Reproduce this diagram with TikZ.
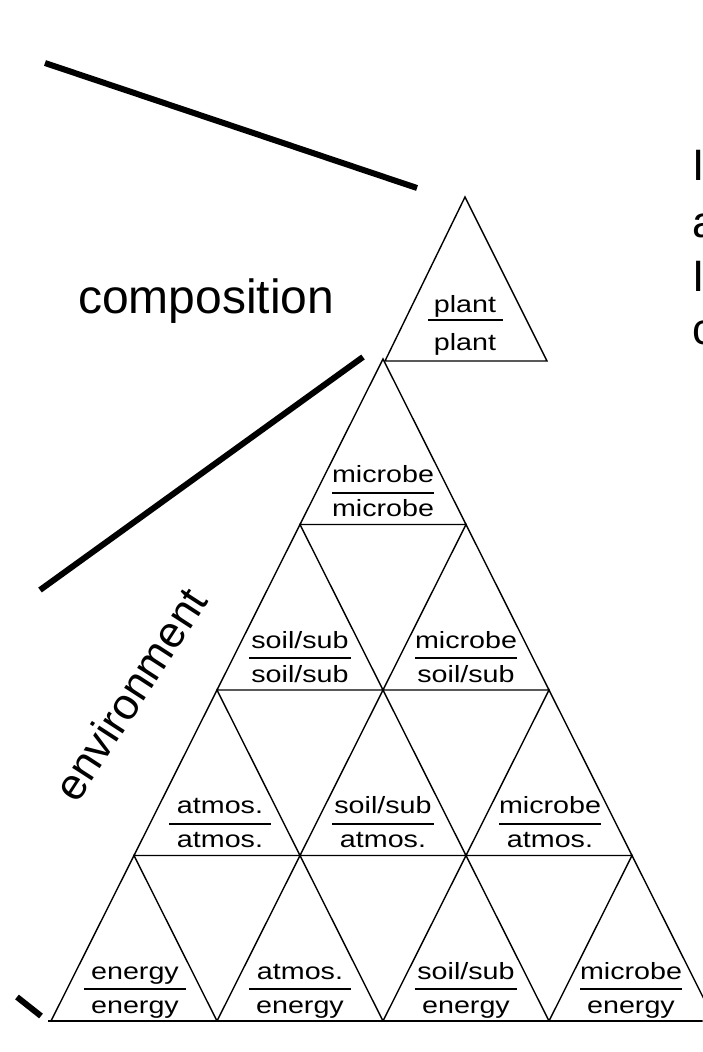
\documentclass[tikz,border=0pt]{standalone}
\usepackage{fontspec}
\setmainfont{Liberation Sans}
\newfontfamily\lblfont[FakeStretch=1.22]{Liberation Sans}
\begin{document}
\begin{tikzpicture}[x=1pt,y=-1pt,
  cell/.style={draw=black, line width=1.4pt, line join=miter},
  baseline rule/.style={draw=black, line width=2.2pt},
  heavy/.style={draw=black, line width=6pt},
  divider/.style={draw=black, line width=2pt},
  lbl/.style={font=\lblfont\fontsize{23.5}{26}\selectfont, inner sep=0pt, anchor=base},
  big/.style={font=\fontsize{48}{52}\selectfont, inner sep=0pt},
]
\useasboundingbox (0,0) rectangle (702,1052);
\fill[white] (0,0) rectangle (702,1052);

% pyramid of upward triangles: four rows below the apex
\foreach \k in {1,...,4} {
  \foreach \j in {1,...,\k} {
    \pgfmathsetmacro\ax{383-(\k-1)*83+(\j-1)*166}
    \pgfmathsetmacro\ay{359+(\k-1)*165.5}
    \draw[cell] (\ax,\ay) -- (\ax-83,\ay+165.5) -- (\ax+83,\ay+165.5) -- cycle;
  }
}
% heavier ground line
\draw[baseline rule] (48,1021) -- (702,1021);

% top triangle, set half a cell to the right
\coordinate (pt) at (465,197);
\coordinate (pl) at (385,361);
\coordinate (pr) at (547,361);
\draw[cell] (pt) -- (pl) -- (pr) -- cycle;

% fraction-style labels: upper word, rule, lower word
\newcommand{\fraclabel}[5]{%
  \node[lbl] (#1-t) at (#2,#3-42) {#4};
  \draw[divider] (#2-51,#3-32) -- (#2+51,#3-32);
  \node[lbl] (#1-b) at (#2,#3-8) {#5};
}
\node[lbl] (plant-t) at (465,312) {plant};
\draw[divider] (428,320) -- (503,320);
\node[lbl] (plant-b) at (465,350) {plant};

\fraclabel{mm}{383}{524.5}{microbe}{microbe}
\fraclabel{ss}{300}{690}{soil/sub}{soil/sub}
\fraclabel{ms}{466}{690}{microbe}{soil/sub}
\fraclabel{aa}{220}{855.5}{atmos.}{atmos.}
\fraclabel{sa}{383}{855.5}{soil/sub}{atmos.}
\fraclabel{ma}{550}{855.5}{microbe}{atmos.}
\fraclabel{ee}{135}{1021}{energy}{energy}
\fraclabel{ae}{300}{1021}{atmos.}{energy}
\fraclabel{se}{466}{1021}{soil/sub}{energy}
\fraclabel{me}{631}{1021}{microbe}{energy}

% heavy bracket strokes
\coordinate (h1a) at (45,63);   \coordinate (h1b) at (417,188);
\coordinate (h2a) at (363,357); \coordinate (h2b) at (40,590);
\coordinate (h3a) at (17,997);  \coordinate (h3b) at (41,1016);
\draw[heavy] (h1a) -- (h1b);
\draw[heavy] (h2a) -- (h2b);
\draw[heavy] (h3a) -- (h3b);

% side captions
\node[big, anchor=base west] (comp) at (78,313) {composition};
\node[big, rotate=57, font=\fontsize{44}{48}\selectfont] (env) at (130,694) {environment};

% text running off the right edge
\node[big, anchor=base west, font=\fontsize{44}{48}\selectfont] (r1) at (692,180) {I};
\node[big, anchor=base west, font=\fontsize{44}{48}\selectfont] (r2) at (692,237) {a};
\node[big, anchor=base west, font=\fontsize{44}{48}\selectfont] (r3) at (692,291) {I};
\node[big, anchor=base west, font=\fontsize{44}{48}\selectfont] (r4) at (692,344) {c};
\end{tikzpicture}
\end{document}
